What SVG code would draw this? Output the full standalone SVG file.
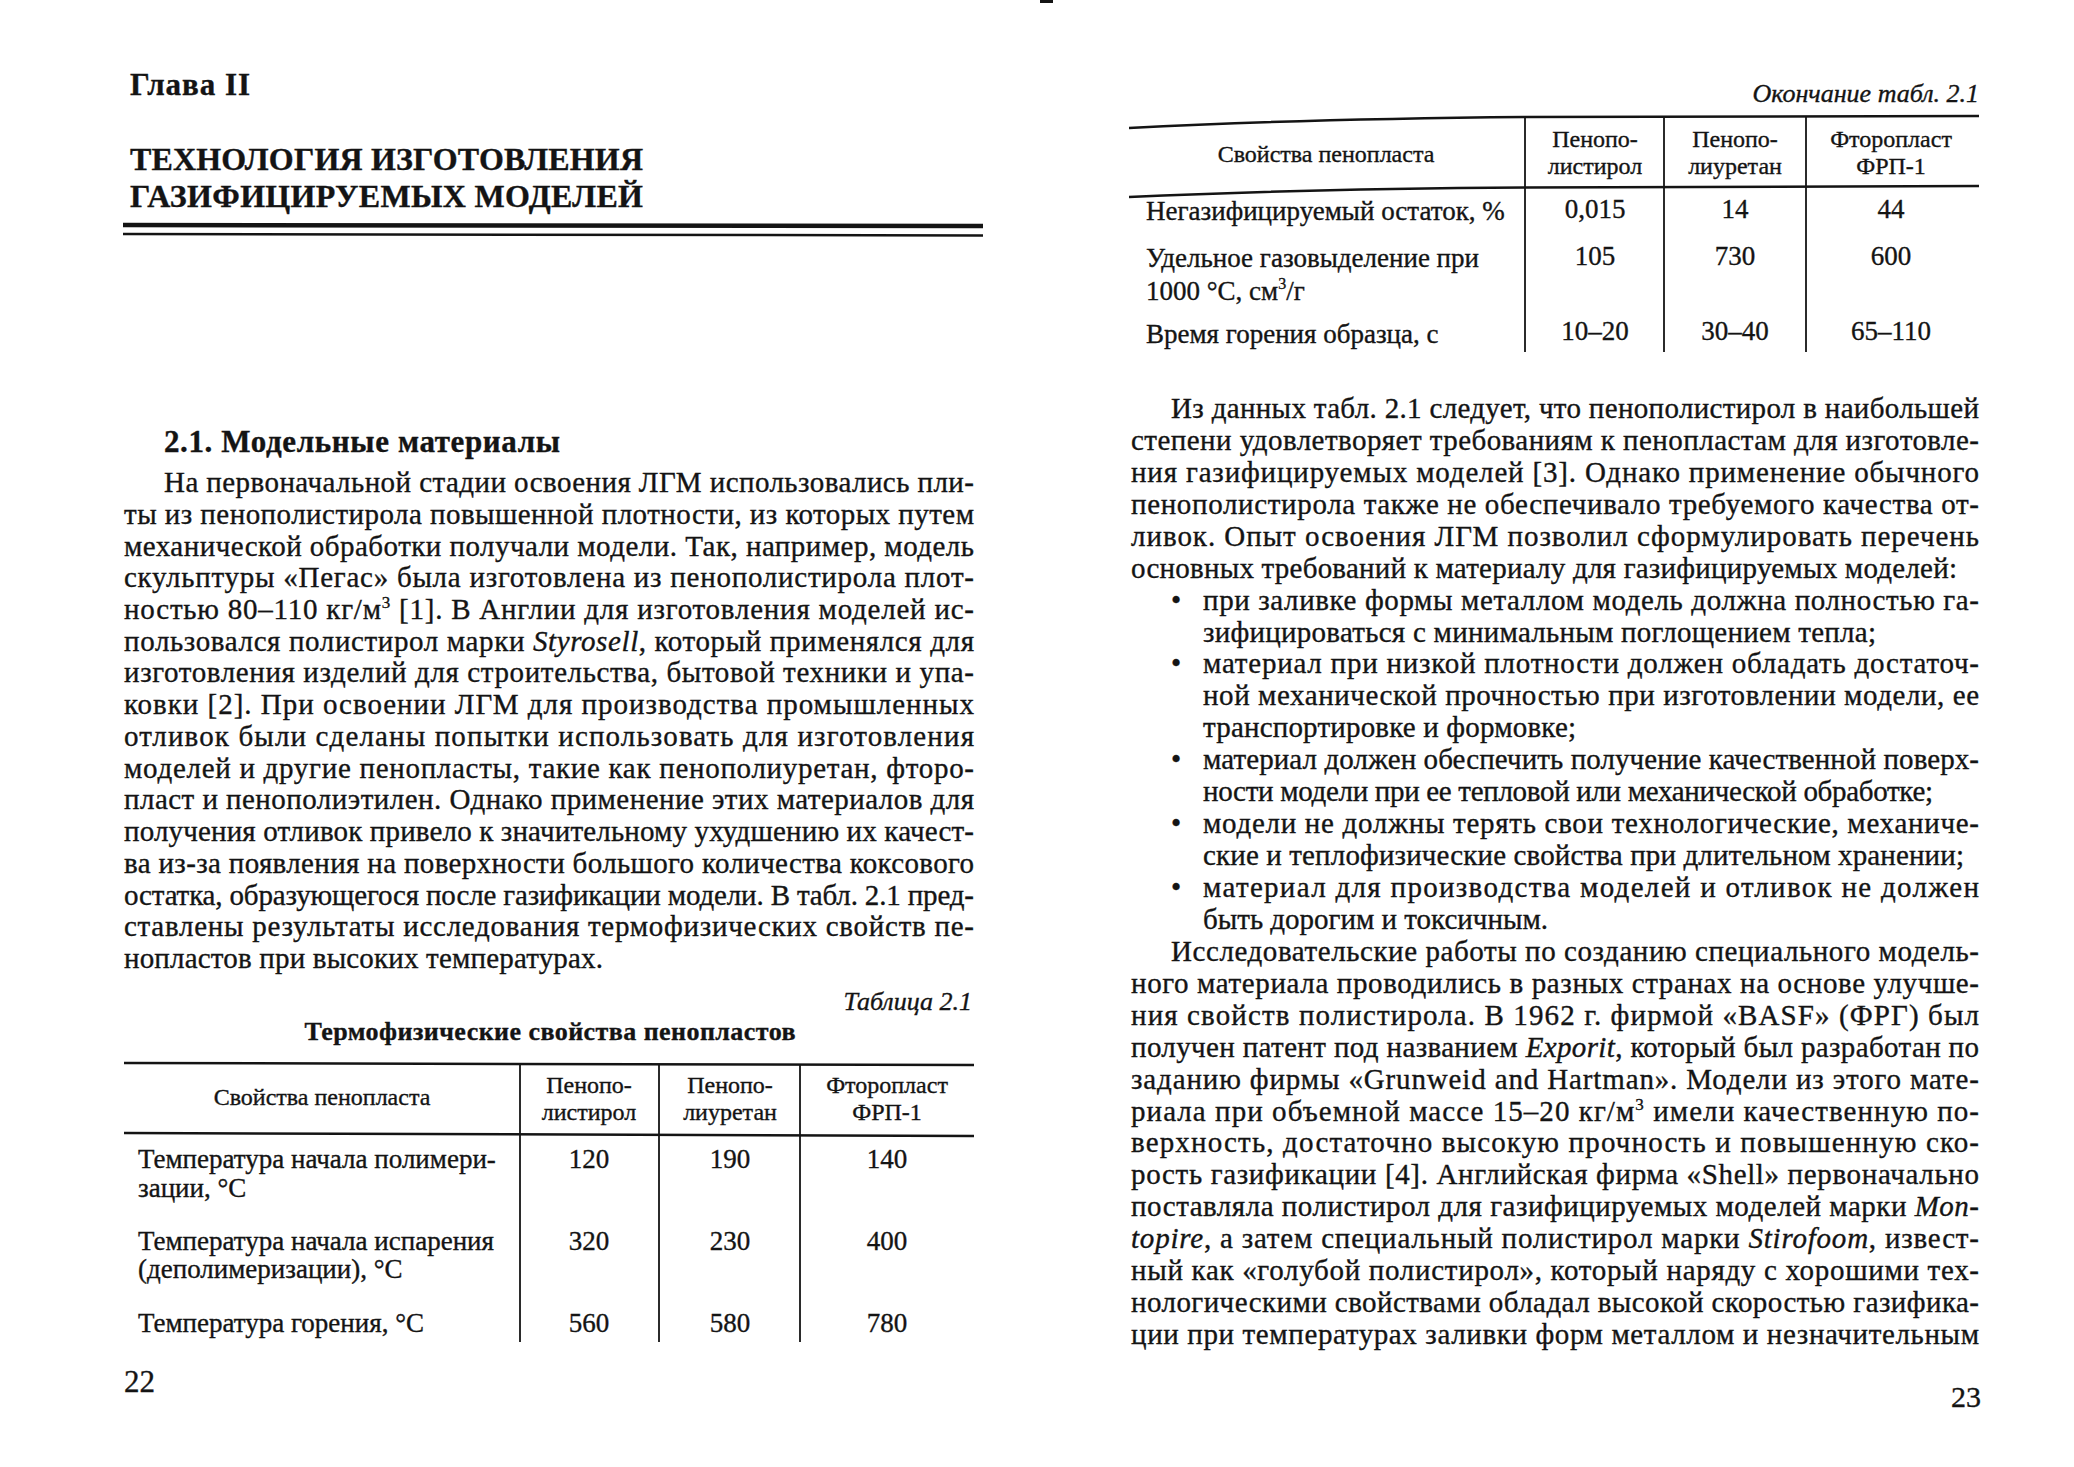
<svg xmlns="http://www.w3.org/2000/svg" width="2074" height="1467" viewBox="0 0 2074 1467">
<style>
text{font-family:"Liberation Serif","Times New Roman",serif;fill:#141414;stroke:#141414;stroke-width:0.35px}
.b{font-size:29px}
.h{font-weight:bold}
.th{font-size:24px}
.td{font-size:27px}
.c{text-anchor:middle}
.r{text-anchor:end}
.i{font-style:italic}
.rule{stroke:#141414;fill:none}
</style>
<rect x="0" y="0" width="2074" height="1467" fill="#ffffff"/>
<rect x="1040" y="0" width="13" height="3" fill="#141414"/>

<g id="left-page">
  <text class="h" x="130" y="95" font-size="31" textLength="120" lengthAdjust="spacing">Глава II</text>
  <text class="h" x="130" y="170" font-size="32" textLength="513" lengthAdjust="spacing">ТЕХНОЛОГИЯ ИЗГОТОВЛЕНИЯ</text>
  <text class="h" x="130" y="207" font-size="32" textLength="513" lengthAdjust="spacing">ГАЗИФИЦИРУЕМЫХ МОДЕЛЕЙ</text>
  <line class="rule" x1="123" y1="225" x2="983" y2="226" stroke-width="4.5"/>
  <line class="rule" x1="123" y1="234" x2="983" y2="235.5" stroke-width="2.5"/>

  <text class="h" x="164" y="452" font-size="31" textLength="396" lengthAdjust="spacing">2.1. Модельные материалы</text>

  <g id="left-body" class="b">
    <text class="b" x="164" y="492" textLength="810" lengthAdjust="spacing">На первоначальной стадии освоения ЛГМ использовались пли-</text>
    <text class="b" x="124" y="523.7" textLength="850" lengthAdjust="spacing">ты из пенополистирола повышенной плотности, из которых путем</text>
    <text class="b" x="124" y="555.5" textLength="850" lengthAdjust="spacing">механической обработки получали модели. Так, например, модель</text>
    <text class="b" x="124" y="587.2" textLength="850" lengthAdjust="spacing">скульптуры «Пегас» была изготовлена из пенополистирола плот-</text>
    <text class="b" x="124" y="618.9" textLength="850" lengthAdjust="spacing">ностью 80–110 кг/м<tspan font-size="17" dy="-11">3</tspan><tspan dy="11"> [1]. В Англии для изготовления моделей ис-</tspan></text>
    <text class="b" x="124" y="650.7" textLength="850" lengthAdjust="spacing">пользовался полистирол марки <tspan class="i">Styrosell</tspan>, который применялся для</text>
    <text class="b" x="124" y="682.4" textLength="850" lengthAdjust="spacing">изготовления изделий для строительства, бытовой техники и упа-</text>
    <text class="b" x="124" y="714.1" textLength="850" lengthAdjust="spacing">ковки [2]. При освоении ЛГМ для производства промышленных</text>
    <text class="b" x="124" y="745.8" textLength="850" lengthAdjust="spacing">отливок были сделаны попытки использовать для изготовления</text>
    <text class="b" x="124" y="777.6" textLength="850" lengthAdjust="spacing">моделей и другие пенопласты, такие как пенополиуретан, фторо-</text>
    <text class="b" x="124" y="809.3" textLength="850" lengthAdjust="spacing">пласт и пенополиэтилен. Однако применение этих материалов для</text>
    <text class="b" x="124" y="841" textLength="850" lengthAdjust="spacing">получения отливок привело к значительному ухудшению их качест-</text>
    <text class="b" x="124" y="872.8" textLength="850" lengthAdjust="spacing">ва из-за появления на поверхности большого количества коксового</text>
    <text class="b" x="124" y="904.5" textLength="850" lengthAdjust="spacing">остатка, образующегося после газификации модели. В табл. 2.1 пред-</text>
    <text class="b" x="124" y="936.2" textLength="850" lengthAdjust="spacing">ставлены результаты исследования термофизических свойств пе-</text>
    <text class="b" x="124" y="968" textLength="479" lengthAdjust="spacing">нопластов при высоких температурах.</text>
  </g>

  <text class="i r" x="972" y="1010" font-size="26">Таблица 2.1</text>
  <text class="h c" x="550" y="1040" font-size="26" textLength="491" lengthAdjust="spacing">Термофизические свойства пенопластов</text>

  <g id="table-left">
    <line class="rule" x1="124" y1="1063" x2="974" y2="1065" stroke-width="2.5"/>
    <line class="rule" x1="124" y1="1133" x2="974" y2="1136" stroke-width="2.5"/>
    <line class="rule" x1="520" y1="1063" x2="520" y2="1342" stroke-width="1.8"/>
    <line class="rule" x1="659" y1="1064" x2="659" y2="1342" stroke-width="1.8"/>
    <line class="rule" x1="800" y1="1064" x2="800" y2="1342" stroke-width="1.8"/>
    <text class="th c" x="322" y="1105">Свойства пенопласта</text>
    <text class="th c" x="589" y="1093">Пенопо-</text>
    <text class="th c" x="589" y="1120">листирол</text>
    <text class="th c" x="730" y="1093">Пенопо-</text>
    <text class="th c" x="730" y="1120">лиуретан</text>
    <text class="th c" x="887" y="1093">Фторопласт</text>
    <text class="th c" x="887" y="1120">ФРП-1</text>
    <text class="td" x="138" y="1168">Температура начала полимери-</text>
    <text class="td" x="138" y="1197">зации, °С</text>
    <text class="td" x="138" y="1250">Температура начала испарения</text>
    <text class="td" x="138" y="1278">(деполимеризации), °С</text>
    <text class="td" x="138" y="1332">Температура горения, °С</text>
    <text class="td c" x="589" y="1168">120</text>
    <text class="td c" x="730" y="1168">190</text>
    <text class="td c" x="887" y="1168">140</text>
    <text class="td c" x="589" y="1250">320</text>
    <text class="td c" x="730" y="1250">230</text>
    <text class="td c" x="887" y="1250">400</text>
    <text class="td c" x="589" y="1332">560</text>
    <text class="td c" x="730" y="1332">580</text>
    <text class="td c" x="887" y="1332">780</text>
  </g>

  <text x="124" y="1392" font-size="31">22</text>
</g>

<g id="right-page">
  <text class="i r" x="1979" y="102" font-size="26">Окончание табл. 2.1</text>

  <g id="table-right">
    <path class="rule" d="M1129,128 Q1300,119 1525,117 L1979,116" stroke-width="2.5"/>
    <path class="rule" d="M1129,197 Q1300,189 1525,187.5 L1979,186" stroke-width="2.5"/>
    <line class="rule" x1="1525" y1="117" x2="1525" y2="352" stroke-width="1.8"/>
    <line class="rule" x1="1664" y1="117" x2="1664" y2="352" stroke-width="1.8"/>
    <line class="rule" x1="1806" y1="116" x2="1806" y2="352" stroke-width="1.8"/>
    <text class="th c" x="1326" y="162">Свойства пенопласта</text>
    <text class="th c" x="1595" y="147">Пенопо-</text>
    <text class="th c" x="1595" y="174">листирол</text>
    <text class="th c" x="1735" y="147">Пенопо-</text>
    <text class="th c" x="1735" y="174">лиуретан</text>
    <text class="th c" x="1891" y="147">Фторопласт</text>
    <text class="th c" x="1891" y="174">ФРП-1</text>
    <text class="td" x="1146" y="220">Негазифицируемый остаток, %</text>
    <text class="td" x="1146" y="267">Удельное газовыделение при</text>
    <text class="td" x="1146" y="300">1000 °С, см<tspan font-size="16" dy="-11">3</tspan><tspan dy="11">/г</tspan></text>
    <text class="td" x="1146" y="343">Время горения образца, с</text>
    <text class="td c" x="1595" y="218">0,015</text>
    <text class="td c" x="1735" y="218">14</text>
    <text class="td c" x="1891" y="218">44</text>
    <text class="td c" x="1595" y="265">105</text>
    <text class="td c" x="1735" y="265">730</text>
    <text class="td c" x="1891" y="265">600</text>
    <text class="td c" x="1595" y="340">10–20</text>
    <text class="td c" x="1735" y="340">30–40</text>
    <text class="td c" x="1891" y="340">65–110</text>
  </g>

  <g id="right-body">
    <text class="b" x="1171" y="418" textLength="808" lengthAdjust="spacing">Из данных табл. 2.1 следует, что пенополистирол в наибольшей</text>
    <text class="b" x="1131" y="449.9" textLength="848" lengthAdjust="spacing">степени удовлетворяет требованиям к пенопластам для изготовле-</text>
    <text class="b" x="1131" y="481.9" textLength="848" lengthAdjust="spacing">ния газифицируемых моделей [3]. Однако применение обычного</text>
    <text class="b" x="1131" y="513.8" textLength="848" lengthAdjust="spacing">пенополистирола также не обеспечивало требуемого качества от-</text>
    <text class="b" x="1131" y="545.7" textLength="848" lengthAdjust="spacing">ливок. Опыт освоения ЛГМ позволил сформулировать перечень</text>
    <text class="b" x="1131" y="577.7" textLength="826" lengthAdjust="spacing">основных требований к материалу для газифицируемых моделей:</text>
    <text class="b" x="1171" y="609.6">•</text>
    <text class="b" x="1203" y="609.6" textLength="776" lengthAdjust="spacing">при заливке формы металлом модель должна полностью га-</text>
    <text class="b" x="1203" y="641.5" textLength="673" lengthAdjust="spacing">зифицироваться с минимальным поглощением тепла;</text>
    <text class="b" x="1171" y="673.4">•</text>
    <text class="b" x="1203" y="673.4" textLength="776" lengthAdjust="spacing">материал при низкой плотности должен обладать достаточ-</text>
    <text class="b" x="1203" y="705.4" textLength="776" lengthAdjust="spacing">ной механической прочностью при изготовлении модели, ее</text>
    <text class="b" x="1203" y="737.3" textLength="373" lengthAdjust="spacing">транспортировке и формовке;</text>
    <text class="b" x="1171" y="769.2">•</text>
    <text class="b" x="1203" y="769.2" textLength="776" lengthAdjust="spacing">материал должен обеспечить получение качественной поверх-</text>
    <text class="b" x="1203" y="801.2" textLength="730" lengthAdjust="spacing">ности модели при ее тепловой или механической обработке;</text>
    <text class="b" x="1171" y="833.1">•</text>
    <text class="b" x="1203" y="833.1" textLength="776" lengthAdjust="spacing">модели не должны терять свои технологические, механиче-</text>
    <text class="b" x="1203" y="865" textLength="761" lengthAdjust="spacing">ские и теплофизические свойства при длительном хранении;</text>
    <text class="b" x="1171" y="897">•</text>
    <text class="b" x="1203" y="897" textLength="776" lengthAdjust="spacing">материал для производства моделей и отливок не должен</text>
    <text class="b" x="1203" y="928.9" textLength="345" lengthAdjust="spacing">быть дорогим и токсичным.</text>
    <text class="b" x="1171" y="960.8" textLength="808" lengthAdjust="spacing">Исследовательские работы по созданию специального модель-</text>
    <text class="b" x="1131" y="992.7" textLength="848" lengthAdjust="spacing">ного материала проводились в разных странах на основе улучше-</text>
    <text class="b" x="1131" y="1024.7" textLength="848" lengthAdjust="spacing">ния свойств полистирола. В 1962 г. фирмой «BASF» (ФРГ) был</text>
    <text class="b" x="1131" y="1056.6" textLength="848" lengthAdjust="spacing">получен патент под названием <tspan class="i">Exporit</tspan>, который был разработан по</text>
    <text class="b" x="1131" y="1088.5" textLength="848" lengthAdjust="spacing">заданию фирмы «Grunweid and Hartman». Модели из этого мате-</text>
    <text class="b" x="1131" y="1120.5" textLength="848" lengthAdjust="spacing">риала при объемной массе 15–20 кг/м<tspan font-size="17" dy="-11">3</tspan><tspan dy="11"> имели качественную по-</tspan></text>
    <text class="b" x="1131" y="1152.4" textLength="848" lengthAdjust="spacing">верхность, достаточно высокую прочность и повышенную ско-</text>
    <text class="b" x="1131" y="1184.3" textLength="848" lengthAdjust="spacing">рость газификации [4]. Английская фирма «Shell» первоначально</text>
    <text class="b" x="1131" y="1216.3" textLength="848" lengthAdjust="spacing">поставляла полистирол для газифицируемых моделей марки <tspan class="i">Mon-</tspan></text>
    <text class="b" x="1131" y="1248.2" textLength="848" lengthAdjust="spacing"><tspan class="i">topire</tspan>, а затем специальный полистирол марки <tspan class="i">Stirofoom</tspan>, извест-</text>
    <text class="b" x="1131" y="1280.1" textLength="848" lengthAdjust="spacing">ный как «голубой полистирол», который наряду с хорошими тех-</text>
    <text class="b" x="1131" y="1312" textLength="848" lengthAdjust="spacing">нологическими свойствами обладал высокой скоростью газифика-</text>
    <text class="b" x="1131" y="1344" textLength="848" lengthAdjust="spacing">ции при температурах заливки форм металлом и незначительным</text>
  </g>

  <text class="r" x="1981" y="1407" font-size="30">23</text>
</g>
</svg>
